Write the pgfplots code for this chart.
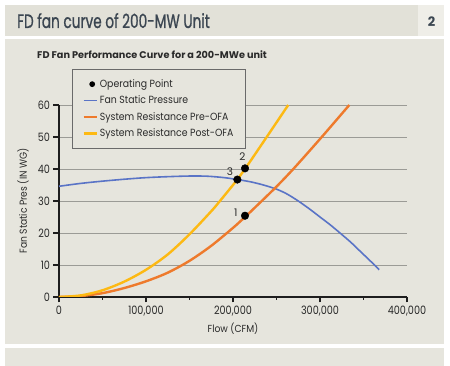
\documentclass[border=0pt]{standalone}
\usepackage{fontspec}
\setmainfont{Poppins}
\usepackage{pgfplots}
\pgfplotsset{compat=1.18}
\pgfplotsset{shortline/.style={legend image code/.code={\draw[##1] (0pt,0pt) -- (13pt,0pt);}}}
\definecolor{panel}{HTML}{E6E5DD}
\definecolor{titlebg}{HTML}{E2E1D8}
\definecolor{numbg}{HTML}{EFEEE8}
\definecolor{titlec}{HTML}{3B4651}
\definecolor{txt}{HTML}{2A2A2A}
\definecolor{gridc}{HTML}{9B9B96}
\definecolor{axisc}{HTML}{1E1E1E}
\definecolor{legc}{HTML}{6A6A6A}
\definecolor{fanblue}{HTML}{5A74C6}
\definecolor{preor}{HTML}{EE7A2C}
\definecolor{postye}{HTML}{FDB913}
\begin{document}
\begin{tikzpicture}[x=1pt,y=1pt]
\fill[white] (0,0) rectangle (450,366);
\fill[titlebg] (5,330) rectangle (418,361);
\fill[numbg] (418,330) rectangle (444,361);
\fill[panel] (5,22) rectangle (444,327);
\fill[panel] (5,0) rectangle (444,18);
\node[anchor=base west, inner sep=0, text=titlec, font=\fontsize{19.5}{19.5}\selectfont\addfontfeature{FakeStretch=0.7,FakeBold=0.9}] at (17,338) {FD fan curve of 200-MW Unit};
\node[anchor=base, inner sep=0, text=titlec, font=\fontsize{13}{13}\selectfont\bfseries] at (431.5,339) {2};
\node[anchor=base west, inner sep=0, text=txt, font=\fontsize{9.7}{9.7}\selectfont\bfseries] at (37,307) {FD Fan Performance Curve for a 200-MWe unit};
\begin{axis}[
  at={(59pt,69pt)}, anchor=south west,
  scale only axis, width=348pt, height=192pt,
  xmin=0, xmax=400000, ymin=0, ymax=60,
  axis lines*=left,
  axis line style={-, line width=1.1pt, color=axisc},
  ymajorgrids, grid style={gridc, line width=0.9pt},
  xtick={0,100000,200000,300000,400000},
  xticklabels={0,{100,000},{200,000},{300,000},{400,000}},
  minor xtick={50000,150000,250000,350000},
  ytick={0,10,20,30,40,50,60},
  tick align=outside,
  major tick length=5.5pt, minor tick length=3pt,
  tick style={line width=1.1pt, color=axisc},
  scaled x ticks=false,
  /pgf/number format/assume math mode=true,
  ticklabel style={font=\fontsize{11.5}{11.5}\selectfont\addfontfeature{FakeStretch=0.84}, text=txt},
  xlabel={Flow (CFM)}, ylabel={Fan Static Pres (IN WG)},
  label style={font=\fontsize{10.2}{10.2}\selectfont\addfontfeature{FakeStretch=0.9}, text=txt},
  xlabel style={at={(axis description cs:0.5,-0.1667)}, anchor=center},
  ylabel style={at={(axis description cs:-0.1034,0.5)}, anchor=center},
  legend style={at={(rel axis cs:0.0374,1.1875)}, anchor=north west, draw=legc, line width=0.9pt, fill=panel,
    inner xsep=10pt, inner ysep=8pt, font=\fontsize{10.4}{10.4}\selectfont\addfontfeature{FakeStretch=0.9}, text=txt,
    cells={anchor=west}, row sep=3pt},
]
\addlegendimage{only marks, mark=*, mark size=2.4pt, black}
\addlegendentry{Operating Point}
\addlegendimage{fanblue, line width=1.6pt, shortline}
\addlegendentry{Fan Static Pressure}
\addlegendimage{preor, line width=2.4pt, shortline}
\addlegendentry{System Resistance Pre-OFA}
\addlegendimage{postye, line width=2.4pt, shortline}
\addlegendentry{System Resistance Post-OFA}

\addplot[fanblue, line width=1.6pt, smooth, forget plot] table {
0 34.6
25000 35.5
50000 36.2
75000 36.8
100000 37.3
125000 37.6
150000 37.8
170000 37.75
190000 37.3
205000 36.7
220000 36.0
235000 35.0
250000 33.7
262000 32.2
275000 30.0
288000 27.5
300000 25.0
312000 22.5
323000 20.0
335000 17.2
345000 14.6
355000 12.0
363000 9.9
368000 8.5
};
\addplot[preor, line width=2.4pt, smooth, forget plot] table {
0 0
25000 0.3
50000 1.2
75000 2.8
100000 4.9
125000 7.6
150000 11.3
175000 16.0
200000 21.6
213800 25.0
225000 27.9
250000 34.5
271000 40.5
302000 50.0
333700 60.0
};
\addplot[postye, line width=2.4pt, smooth, forget plot] table {
0 0
25000 0.5
50000 2.1
75000 4.8
100000 8.5
125000 13.3
150000 19.6
175000 26.8
185000 30.0
205000 36.7
213800 40.0
238000 49.7
263500 60.0
};
\addplot[only marks, mark=*, mark size=3.8pt, black, forget plot] table {
213800 25.4
213800 40.2
205000 36.7
};
\node[text=txt, font=\fontsize{10.5}{10.5}\selectfont] at (axis cs:203100,26.4) {1};
\node[text=txt, font=\fontsize{10.5}{10.5}\selectfont] at (axis cs:210700,43.75) {2};
\node[text=txt, font=\fontsize{10.5}{10.5}\selectfont] at (axis cs:196600,39.25) {3};
\end{axis}
\end{tikzpicture}
\end{document}
